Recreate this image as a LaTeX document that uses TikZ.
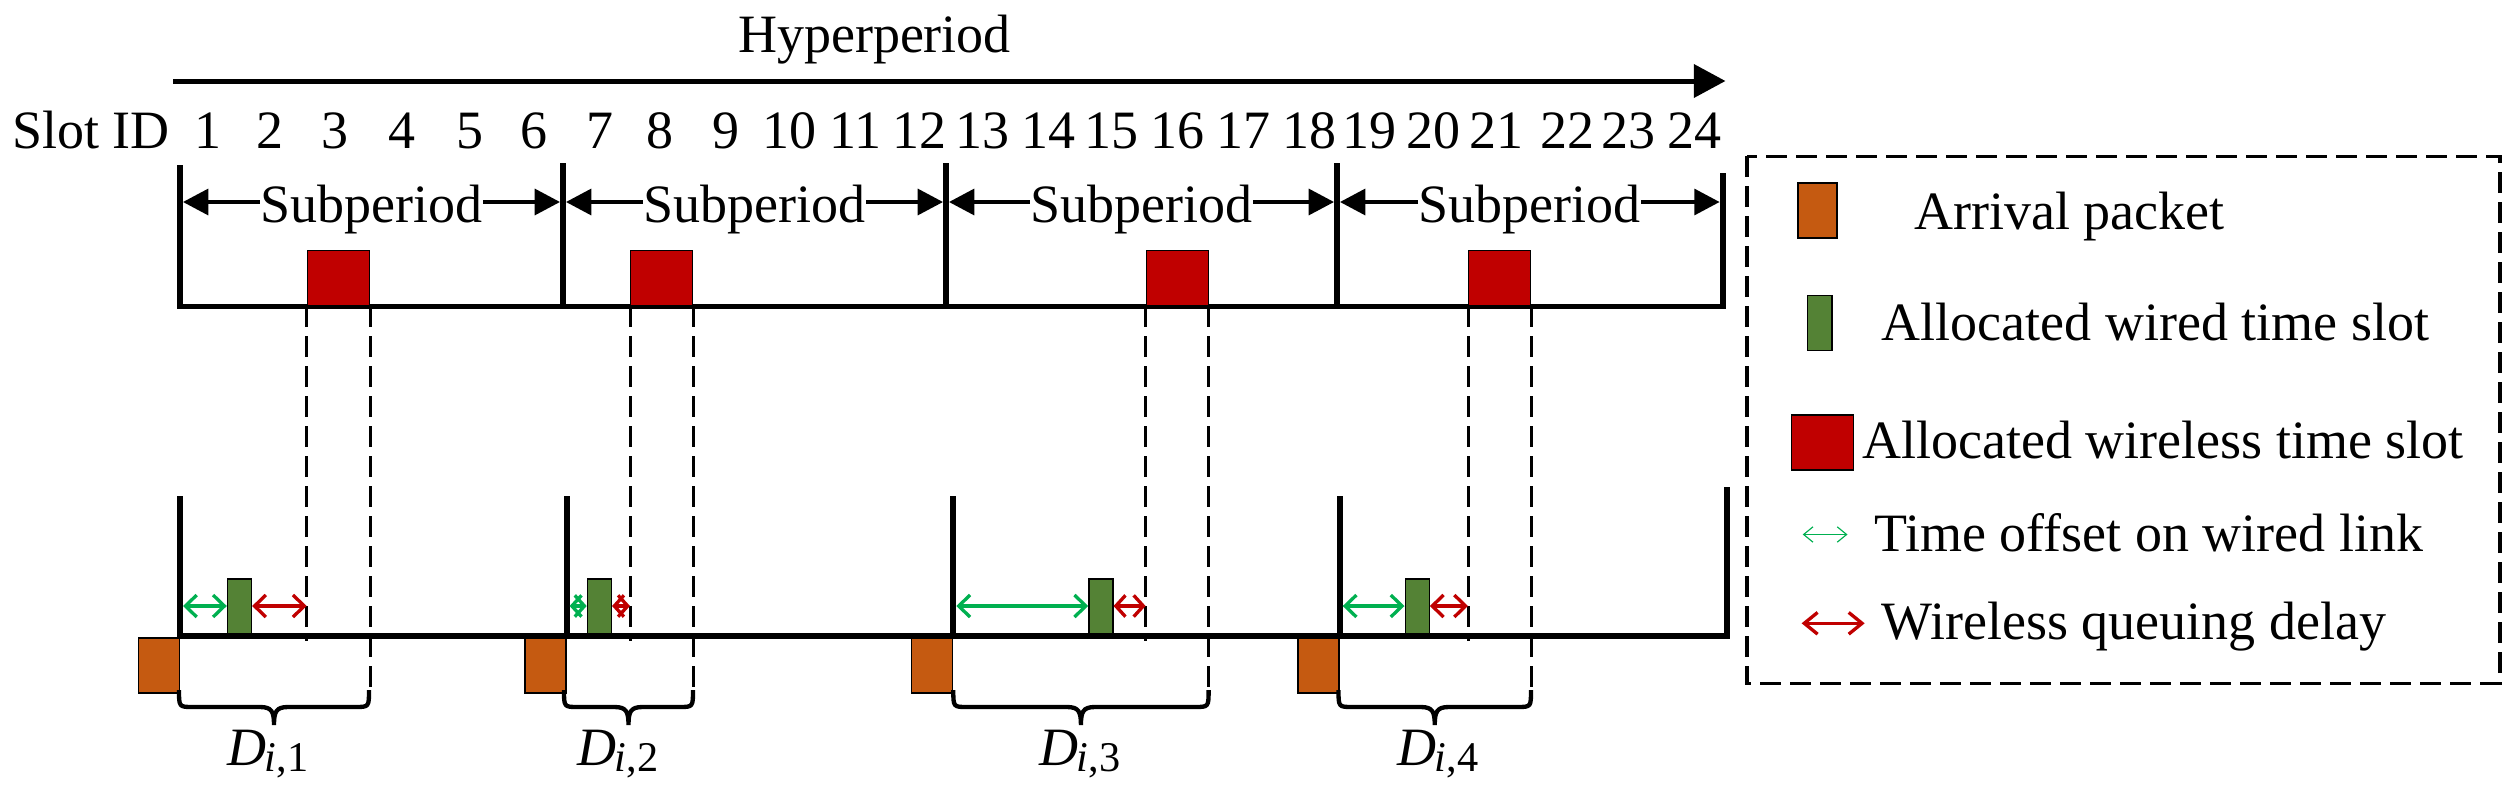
\documentclass[tikz,border=0pt]{standalone}
\usepackage{fontspec}
\setmainfont{Liberation Serif}
\usetikzlibrary{arrows.meta}
\definecolor{wred}{HTML}{C00000}
\definecolor{wgreen}{HTML}{548235}
\definecolor{aorange}{HTML}{C55A11}
\definecolor{agreen}{HTML}{00B050}
\newcommand\Dlab[1]{\textit{D}\kern-0.5pt\raisebox{-2pt}{\fontsize{12.7pt}{13pt}\selectfont\textit{i},#1}}
\newcommand\mybrc[2]{\draw[brc] (#1,690) .. controls (#1,707) .. ({#1+14},707) -- ({(#1+#2)/2-14},707) .. controls ({(#1+#2)/2-2},707) and ({(#1+#2)/2},712) .. ({(#1+#2)/2},725) .. controls ({(#1+#2)/2},712) and ({(#1+#2)/2+2},707) .. ({(#1+#2)/2+14},707) -- ({#2-14},707) .. controls (#2,707) .. (#2,690);}
\begin{document}
\begin{tikzpicture}[x=0.3pt,y=-0.3pt,
  txt/.style={font=\fontsize{16.2pt}{19pt}\selectfont, inner sep=0pt},
  axis/.style={line width=1.5pt},
  vert/.style={line width=1.8pt},
  dline/.style={line width=0.9pt, dash pattern=on 6.3pt off 2.7pt},
  box/.style={draw=black, line width=0.4pt, inner sep=0pt, minimum height=16.5pt},
  redbox/.style={box, fill=wred, minimum width=18.6pt},
  greenbox/.style={box, fill=wgreen, minimum width=7.2pt},
  orangebox/.style={box, fill=aorange, minimum width=12.3pt},
  harrow/.style={line width=1.5pt, -{Triangle[length=9.5pt,width=9.8pt]}},
  sarrow/.style={line width=1.0pt, -{Triangle[length=7.6pt,width=7.8pt]}},
  offarrow/.style={agreen, line width=1.0pt, {Straight Barb[length=3.4pt,width=6.6pt]}-{Straight Barb[length=3.4pt,width=6.6pt]}},
  qarrow/.style={wred, line width=1.0pt, {Straight Barb[length=3.4pt,width=6.6pt]}-{Straight Barb[length=3.4pt,width=6.6pt]}},
  short/.style={{Straight Barb[length=2.9pt,width=6.4pt]}-{Straight Barb[length=2.9pt,width=6.4pt]}},
  legthin/.style={agreen, line width=0.35pt, {Straight Barb[length=2.8pt,width=4.6pt]}-{Straight Barb[length=2.8pt,width=4.6pt]}},
  legq/.style={wred, line width=1.0pt, {Straight Barb[length=4pt,width=6.5pt]}-{Straight Barb[length=4pt,width=6.5pt]}},
  brc/.style={line width=1.3pt},
]
\useasboundingbox (0,0) rectangle (2517,788);

% header
\node[txt, anchor=base] (hp) at (874.5,52) {Hyperperiod};
\coordinate (ha) at (173,81);
\coordinate (hb) at (1725.5,81);
\draw[harrow] (ha) -- (hb);
\node[txt, anchor=base west] (slotid) at (11.5,148) {Slot ID};
\foreach \n/\x in {1/208,2/270,3/335,4/402,5/470,6/534,7/600,8/660,9/726,10/789,11/855,12/919,13/982,14/1048,15/1111,16/1177,17/1243,18/1309,19/1369.5,20/1433,21/1496,22/1567.6,23/1628,24/1694}
  \node[txt, anchor=base] (s\n) at (\x,148) {\n};

% top timeline
\coordinate (tv1) at (180,306);
\coordinate (tv2) at (563,306);
\coordinate (tv3) at (946,306);
\coordinate (tv4) at (1337,306);
\coordinate (tv5) at (1722.6,306);
\coordinate (Ay) at (0,202);
\draw[vert] (tv1) -- (180,165);
\draw[vert] (tv2) -- (563,163);
\draw[vert] (tv3) -- (946,163);
\draw[vert] (tv4) -- (1337,163);
\draw[vert] (tv5) -- (1722.6,173);
\draw[axis] ([xshift=-0.9pt]tv1) -- ([xshift=0.9pt]tv5);
\foreach \i/\x in {1/371.5,2/754.5,3/1141.5,4/1529.8}
  \node[txt, anchor=base] (sp\i) at (\x,222) {Subperiod};
\draw[sarrow] (sp1.west |- Ay) -- ([xshift=0.9pt]tv1 |- Ay);
\draw[sarrow] (sp1.east |- Ay) -- ([xshift=-0.9pt]tv2 |- Ay);
\draw[sarrow] (sp2.west |- Ay) -- ([xshift=0.9pt]tv2 |- Ay);
\draw[sarrow] (sp2.east |- Ay) -- ([xshift=-0.9pt]tv3 |- Ay);
\draw[sarrow] (sp3.west |- Ay) -- ([xshift=0.9pt]tv3 |- Ay);
\draw[sarrow] (sp3.east |- Ay) -- ([xshift=-0.9pt]tv4 |- Ay);
\draw[sarrow] (sp4.west |- Ay) -- ([xshift=0.9pt]tv4 |- Ay);
\draw[sarrow] (sp4.east |- Ay) -- ([xshift=-0.9pt]tv5 |- Ay);

% red wireless slots
\node[redbox, anchor=south west] (r1) at (306.7,306) {};
\node[redbox, anchor=south west] (r2) at (630,306) {};
\node[redbox, anchor=south west] (r3) at (1145.6,306) {};
\node[redbox, anchor=south west] (r4) at (1468,306) {};

% lower timeline
\coordinate (lv1) at (180,636);
\coordinate (lv2) at (566.6,636);
\coordinate (lv3) at (953.3,636);
\coordinate (lv4) at (1339.7,636);
\coordinate (lv5) at (1726.6,636);
\coordinate (lowend) at (0,641);
\coordinate (brtop) at (0,690);
\coordinate (Ly) at (0,606);

% dashed projections
\foreach \i in {1,2,3,4}{
  \draw[dline] (r\i.south west) -- (r\i.south west |- lowend);
  \draw[dline] (r\i.south east) -- (r\i.south east |- brtop);
}

\draw[vert] (lv1) -- (180,495.7);
\draw[vert] (lv2) -- (566.6,495.7);
\draw[vert] (lv3) -- (953.3,495.7);
\draw[vert] (lv4) -- (1339.7,495.7);
\draw[vert] (lv5) -- (1726.6,486.7);
\draw[line width=1.7pt] ([xshift=-0.9pt]lv1) -- ([xshift=0.9pt]lv5);

% wired slots
\node[greenbox, anchor=south west] (g1) at (226.8,634.5) {};
\node[greenbox, anchor=south west] (g2) at (586.7,634.5) {};
\node[greenbox, anchor=south west] (g3) at (1088.2,634.5) {};
\node[greenbox, anchor=south west] (g4) at (1404.5,634.5) {};

% arrival packets
\node[orangebox, anchor=north east] (o1) at ([yshift=-0.4pt]lv1) {};
\node[orangebox, anchor=north east] (o2) at ([yshift=-0.4pt]lv2) {};
\node[orangebox, anchor=north east] (o3) at ([yshift=-0.4pt]lv3) {};
\node[orangebox, anchor=north east] (o4) at ([yshift=-0.4pt]lv4) {};

% offsets and queuing delays
\draw[offarrow] ([xshift=0.9pt]lv1 |- Ly) -- (g1.west |- Ly);
\draw[qarrow] (g1.east |- Ly) -- (r1.south west |- Ly);
\draw[offarrow, short] ([xshift=0.9pt]lv2 |- Ly) -- (g2.west |- Ly);
\draw[qarrow, short] (g2.east |- Ly) -- (r2.south west |- Ly);
\draw[offarrow] ([xshift=0.9pt]lv3 |- Ly) -- (g3.west |- Ly);
\draw[qarrow, short] (g3.east |- Ly) -- (r3.south west |- Ly);
\draw[offarrow] ([xshift=0.9pt]lv4 |- Ly) -- (g4.west |- Ly);
\draw[qarrow] (g4.east |- Ly) -- (r4.south west |- Ly);

% braces
\mybrc{179}{369}
\mybrc{564}{693}
\mybrc{953.3}{1208.6}
\mybrc{1338.5}{1531}
\node[txt, anchor=base] (d1) at (268,765) {\Dlab{1}};
\node[txt, anchor=base] (d2) at (618,765) {\Dlab{2}};
\node[txt, anchor=base] (d3) at (1080,765) {\Dlab{3}};
\node[txt, anchor=base] (d4) at (1438,765) {\Dlab{4}};

% legend
\draw[dline, line width=1.0pt] (1746.9,156.4) rectangle (2499.9,683.3);
\node[orangebox, minimum width=11.7pt, anchor=north west] (lo) at (1797.4,182.4) {};
\node[greenbox, minimum width=7.35pt, anchor=north west] (lg) at (1806.8,294.5) {};
\node[redbox, anchor=north west] (lr) at (1790.7,414.3) {};
\coordinate (lta) at (1802.7,534.5);
\coordinate (ltb) at (1847.5,534.5);
\draw[legthin] (lta) -- (ltb);
\coordinate (lqa) at (1801.6,623.3);
\coordinate (lqb) at (1864.7,623.3);
\draw[legq] (lqa) -- (lqb);
\node[txt, anchor=base west] (t1) at (1913.7,229) {Arrival packet};
\node[txt, anchor=base west] (t2) at (1881.3,340) {Allocated wired time slot};
\node[txt, anchor=base west] (t3) at (1861.5,458.7) {Allocated wireless time slot};
\node[txt, anchor=base west] (t4) at (1873.5,551) {Time offset on wired link};
\node[txt, anchor=base west] (t5) at (1881,639.7) {Wireless queuing delay};
\end{tikzpicture}
\end{document}
